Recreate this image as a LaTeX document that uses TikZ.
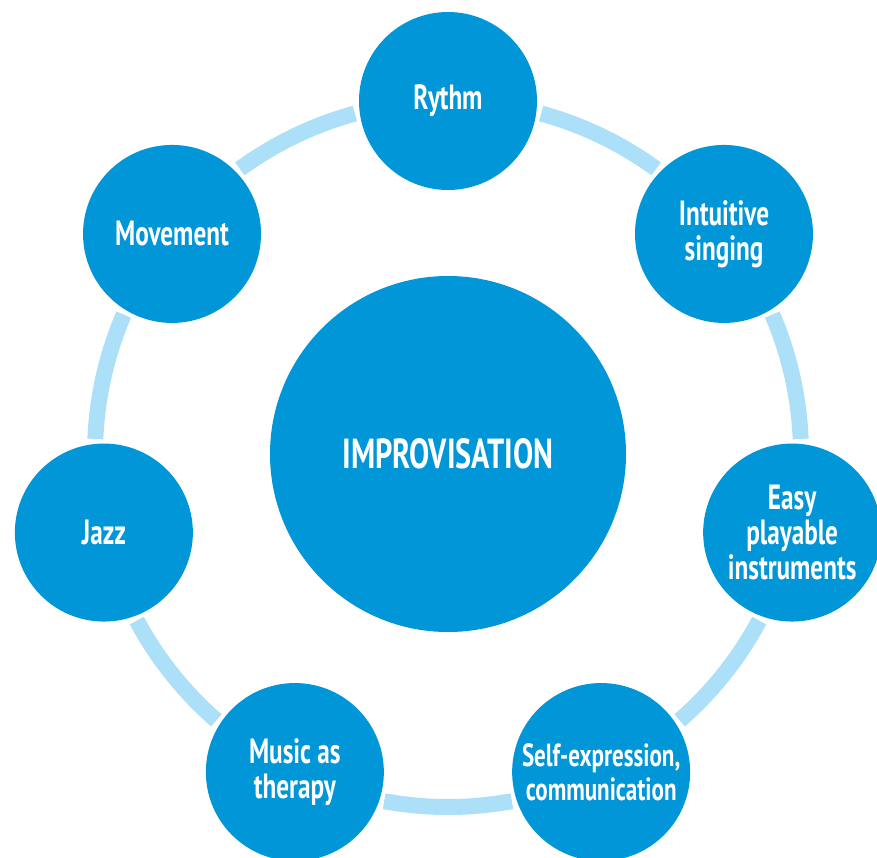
\documentclass[tikz,border=0pt]{standalone}
\usepackage{fontspec}
\setmainfont{PT Sans}[FakeStretch=0.72]
\definecolor{topicblue}{HTML}{0096D8}
\definecolor{ringblue}{HTML}{ACDFF8}
\begin{document}
\begin{tikzpicture}[x=1pt,y=1pt,
  topic/.style={circle, fill=topicblue, text=white, inner sep=0pt,
    minimum size=178pt, align=center,
    font=\bfseries\fontsize{35}{35}\selectfont},
  hub/.style={topic, minimum size=356pt,
    font=\bfseries\fontsize{42}{46}\selectfont},
  ringseg/.style={draw=ringblue, line width=16pt}
]
\useasboundingbox (0,0) rectangle (877,-857);
\coordinate (ctr) at (448,-454);
\def\ringR{353}
\def\gap{15.3}

% ring segments between neighbouring topics
\foreach \i in {0,...,6} {
  \pgfmathsetmacro\a{90-\i*360/7-\gap}
  \pgfmathsetmacro\b{90-(\i+1)*360/7+\gap}
  \draw[ringseg] ([shift={(\a:\ringR pt)}]ctr) arc[start angle=\a, end angle=\b, radius=\ringR pt];
}

% central topic
\node[hub] (impro) at (ctr) {IMPROVISATION};

% surrounding topics
\node[topic] (rythm)   at ([shift={(90:\ringR pt)}]ctr) {Rythm};
\node[topic] (singing) at ([shift={(90-360/7:\ringR pt)}]ctr) {Intuitive\\singing};
\node[topic] (instr)   at ([shift={(90-2*360/7:\ringR pt)}]ctr) {Easy\\playable\\instruments};
\node[topic, font=\bfseries\fontsize{32}{34}\selectfont]
             (self)    at ([shift={(90-3*360/7:\ringR pt)}]ctr) {Self-expression,\\communication};
\node[topic] (therapy) at ([shift={(90-4*360/7:\ringR pt)}]ctr) {Music as\\therapy};
\node[topic] (jazz)    at ([shift={(90-5*360/7:\ringR pt)}]ctr) {Jazz};
\node[topic] (move)    at ([shift={(90-6*360/7:\ringR pt)}]ctr) {Movement};
\end{tikzpicture}
\end{document}
